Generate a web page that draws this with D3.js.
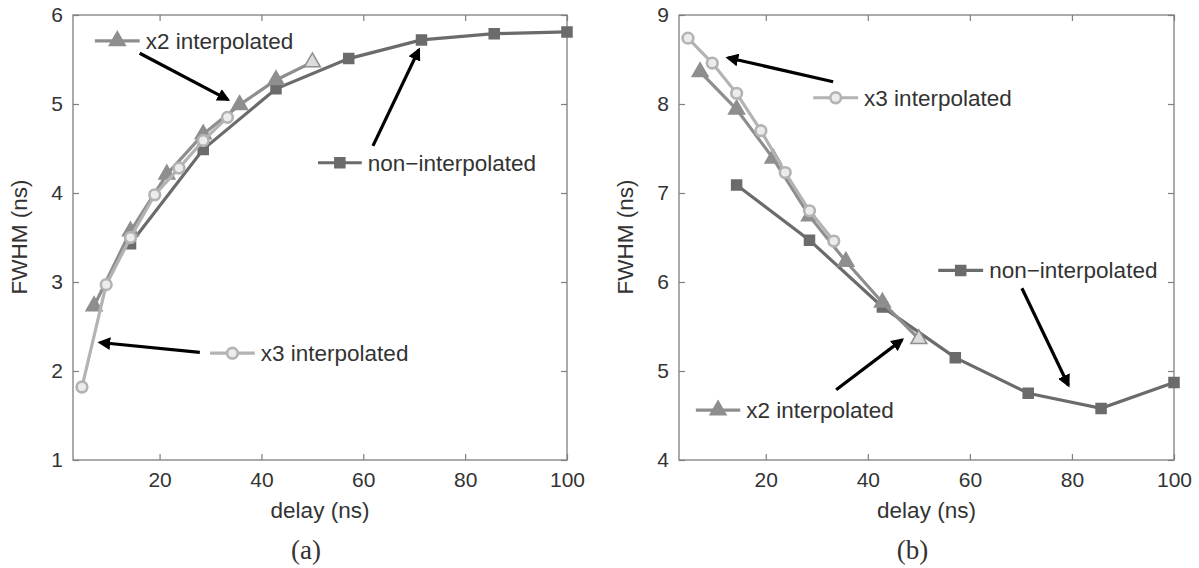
<!DOCTYPE html>
<meta charset="utf-8">
<script src="https://d3js.org/d3.v7.min.js"></script>
<style>
    body { margin: 0; background: #fff; }
    svg text { font-family: "Liberation Sans", Arial, sans-serif; fill: #333; }
    .caption { font-family: "Liberation Serif", "Times New Roman", serif !important; }
</style>
<div id="my_dataviz"></div>
<script>
    // delay values (ns)
    var delayNon = [14.29, 28.57, 42.86, 57.14, 71.43, 85.71, 100];
    var delayX2 = [7.14, 14.29, 21.43, 28.57, 35.71, 42.86, 50];
    var delayX3 = [4.76, 9.52, 14.29, 19.05, 23.81, 28.57, 33.33];

    // FWHM (ns), panel (a)
    var fwhmNonA = [3.43, 4.49, 5.17, 5.51, 5.72, 5.79, 5.81];
    var fwhmX2A = [2.73, 3.57, 4.21, 4.66, 4.99, 5.27, 5.47];
    var fwhmX3A = [1.82, 2.97, 3.50, 3.98, 4.28, 4.59, 4.85];

    // FWHM (ns), panel (b)
    var fwhmNonB = [7.09, 6.47, 5.72, 5.15, 4.75, 4.58, 4.87];
    var fwhmX2B = [8.36, 7.94, 7.39, 6.74, 6.23, 5.77, 5.36];
    var fwhmX3B = [8.74, 8.46, 8.12, 7.70, 7.23, 6.80, 6.46];

    var xTicks = [20, 40, 60, 80, 100];
    var yTicksA = [1, 2, 3, 4, 5, 6];
    var yTicksB = [4, 5, 6, 7, 8, 9];

    var colNon = "#6b6b6b", colX2 = "#8e8e8e", colX3 = "#b3b3b3";

    var svg = d3.select("#my_dataviz")
        .append("svg")
        .attr("width", 1199)
        .attr("height", 568);

    svg.append("defs").append("marker")
        .attr("id", "arrow")
        .attr("viewBox", "0 0 10 10")
        .attr("refX", 8)
        .attr("refY", 5)
        .attr("markerWidth", 4)
        .attr("markerHeight", 4)
        .attr("orient", "auto")
        .append("path")
        .attr("d", "M0,0 L10,5 L0,10 z")
        .attr("fill", "#000");

    function drawPanel(opt) {
        var x = d3.scaleLinear().domain([3, 100]).range([opt.left, opt.right]);
        var y = d3.scaleLinear().domain(opt.yDomain).range([460, 15]);
        var g = svg.append("g");

        // box
        g.append("rect")
            .attr("x", opt.left).attr("y", 15)
            .attr("width", opt.right - opt.left).attr("height", 445)
            .attr("fill", "none").attr("stroke", "#7f7f7f").attr("stroke-width", 1.3);

        // inward ticks on all four sides
        var axB = g.append("g").attr("transform", "translate(0,460)")
            .call(d3.axisBottom(x).tickValues(xTicks).tickSize(-6).tickPadding(12).tickFormat(d3.format("d")));
        var axT = g.append("g").attr("transform", "translate(0,15)")
            .call(d3.axisTop(x).tickValues(xTicks).tickSize(-6).tickFormat(""));
        var axL = g.append("g").attr("transform", "translate(" + opt.left + ",0)")
            .call(d3.axisLeft(y).tickValues(opt.yTicks).tickSize(-6).tickPadding(12).tickFormat(d3.format("d")));
        var axR = g.append("g").attr("transform", "translate(" + opt.right + ",0)")
            .call(d3.axisRight(y).tickValues(opt.yTicks).tickSize(-6).tickFormat(""));
        [axB, axT, axL, axR].forEach(function (a) {
            a.select(".domain").remove();
            a.selectAll("line").attr("stroke", "#7f7f7f").attr("stroke-width", 1.2);
            a.selectAll("text").style("font-size", "21px").attr("fill", "#333");
        });
        axL.selectAll("text").attr("x", -10);

        // labels
        g.append("text")
            .attr("x", (opt.left + opt.right) / 2).attr("y", 518)
            .attr("text-anchor", "middle").style("font-size", "22.5px")
            .text("delay (ns)");
        g.append("text")
            .attr("transform", "translate(" + (opt.left - 46) + ",237)rotate(-90)")
            .attr("text-anchor", "middle").style("font-size", "22.5px")
            .text("FWHM (ns)");
        g.append("text")
            .attr("class", "caption")
            .attr("x", (opt.left + opt.right) / 2 - 14).attr("y", 559)
            .attr("text-anchor", "middle").style("font-size", "27px")
            .text(opt.caption);

        var line = d3.line().x(function (d) { return x(d[0]); }).y(function (d) { return y(d[1]); });

        function series(xs, ys, color, shape) {
            var pts = xs.map(function (v, i) { return [v, ys[i]]; });
            g.append("path").datum(pts)
                .attr("d", line).attr("fill", "none")
                .attr("stroke", color).attr("stroke-width", 3.2);
            drawMarkers(pts, color, shape);
        }

        function drawMarkers(pts, color, shape) {
            var sym = shape == "square" ? d3.symbolSquare : shape == "triangle" ? d3.symbolTriangle : d3.symbolCircle;
            var size = shape == "square" ? 100 : shape == "triangle" ? 110 : 90;
            g.selectAll(null).data(pts).enter().append("path")
                .attr("transform", function (d) { return "translate(" + x(d[0]) + "," + y(d[1]) + ")"; })
                .attr("d", d3.symbol().type(sym).size(size))
                .attr("fill", function (d, i) {
                    if (shape == "circle") return "#ececec";
                    if (shape == "triangle" && i == pts.length - 1 && pts.length > 1) return "#dcdcdc";
                    return color;
                })
                .attr("stroke", color)
                .attr("stroke-width", shape == "circle" ? 2.6 : 1.5);
        }

        series(delayNon, opt.non, colNon, "square");
        series(delayX2, opt.x2, colX2, "triangle");
        series(delayX3, opt.x3, colX3, "circle");

        // in-plot legend labels with arrows
        opt.notes.forEach(function (n) {
            var c = n.kind == "non" ? colNon : n.kind == "x2" ? colX2 : colX3;
            var shape = n.kind == "non" ? "square" : n.kind == "x2" ? "triangle" : "circle";
            g.append("line")
                .attr("x1", x(n.lx[0])).attr("x2", x(n.lx[1]))
                .attr("y1", y(n.ly)).attr("y2", y(n.ly))
                .attr("stroke", c).attr("stroke-width", 3.2);
            drawMarkers([[(n.lx[0] + n.lx[1]) / 2, n.ly]], c, shape);
            g.append("text")
                .attr("x", x(n.lx[1]) + 6).attr("y", y(n.ly) + 8)
                .style("font-size", "22.5px")
                .text(n.label);
            g.append("line")
                .attr("x1", x(n.from[0])).attr("y1", y(n.from[1]))
                .attr("x2", x(n.to[0])).attr("y2", y(n.to[1]))
                .attr("stroke", "#000").attr("stroke-width", 3.2)
                .attr("marker-end", "url(#arrow)");
        });
    }

    drawPanel({
        left: 73, right: 567, yDomain: [1, 6], yTicks: yTicksA, caption: "(a)",
        non: fwhmNonA, x2: fwhmX2A, x3: fwhmX3A,
        notes: [
            { kind: "x2", label: "x2 interpolated", lx: [7.3, 16.1], ly: 5.71, from: [16.1, 5.57], to: [33.4, 5.05] },
            { kind: "non", label: "non\u2212interpolated", lx: [51.1, 59.7], ly: 4.34, from: [61.9, 4.53], to: [70.9, 5.61] },
            { kind: "x3", label: "x3 interpolated", lx: [29.9, 38.7], ly: 2.2, from: [27.9, 2.21], to: [8.3, 2.32] }
        ]
    });

    drawPanel({
        left: 679, right: 1174, yDomain: [4, 9], yTicks: yTicksB, caption: "(b)",
        non: fwhmNonB, x2: fwhmX2B, x3: fwhmX3B,
        notes: [
            { kind: "x3", label: "x3 interpolated", lx: [29.3, 38.1], ly: 8.07, from: [33.2, 8.25], to: [12.6, 8.52] },
            { kind: "non", label: "non\u2212interpolated", lx: [53.8, 62.6], ly: 6.13, from: [70.2, 5.93], to: [79.3, 4.84] },
            { kind: "x2", label: "x2 interpolated", lx: [6.3, 15.0], ly: 4.56, from: [33.8, 4.79], to: [46.7, 5.35] }
        ]
    });
</script>
